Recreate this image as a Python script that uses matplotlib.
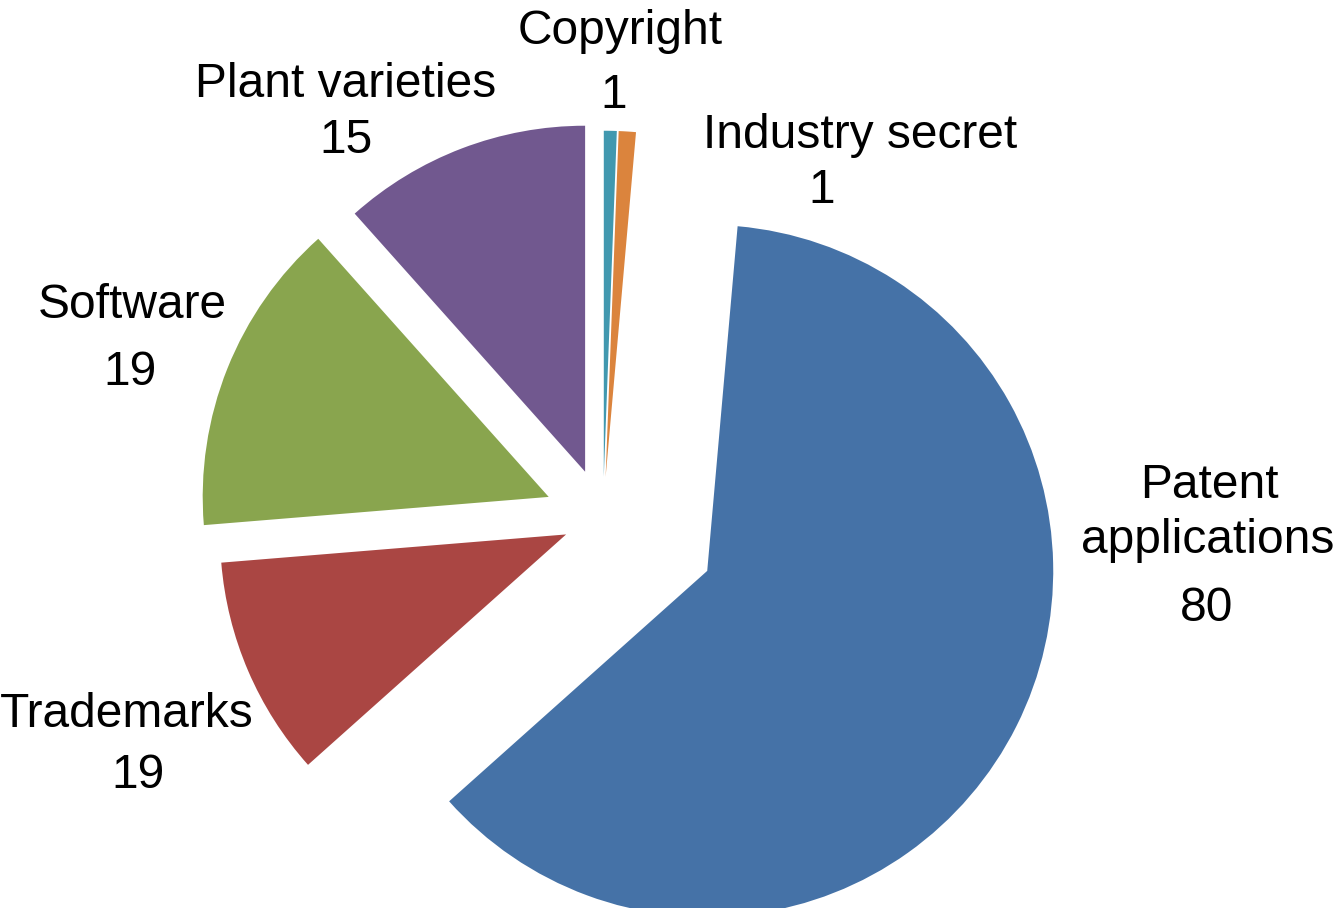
import matplotlib
matplotlib.use("Agg")
import matplotlib.pyplot as plt

# data
categories = ["Copyright", "Industry secret", "Patent applications",
              "Trademarks", "Software", "Plant varieties"]
counts = [1, 1, 80, 19, 19, 15]
# slice sizes as drawn in the picture (percent of the circle)
shares = [0.6, 0.8, 62.0, 10.3, 14.7, 11.6]

colors = ["#4198AF", "#DB843D", "#4572A7", "#AA4643", "#89A54E", "#71588F"]
explode = [0.121, 0.121, 0.337, 0.116, 0.169, 0.145]  # fraction of radius

# label layout in pixel coords (x centre, baseline y from top); one entry per text line
label_lines = [
    [("Copyright", 620, 44), ("{}", 614, 108)],
    [("Industry secret", 860, 148), ("{}", 822, 203)],
    [("Patent", 1209, 498), ("applications", 1208, 553), ("{}", 1207, 621)],
    [("Trademarks", 127, 727), ("{}", 138, 788)],
    [("Software", 132, 318), ("{}", 130, 385)],
    [("Plant varieties", 346, 97), ("{}", 346, 153)],
]

W, H = 1338, 908
R = 346
fig = plt.figure(figsize=(W / 100, H / 100), dpi=100)
ax = fig.add_axes([0, 0, 1, 1])

# matplotlib's explode is in data units, so scale by the radius
ax.pie(shares, explode=[e * R for e in explode], colors=colors, startangle=90,
       counterclock=False, radius=R, center=(603, H - 518.6),
       wedgeprops=dict(linewidth=0))

for lines, n in zip(label_lines, counts):
    for txt, x, y in lines:
        ax.text(x, H - y, txt.format(n), ha="center", va="baseline",
                fontsize=34.5, family="Liberation Sans", color="black")

ax.set_xlim(0, W)
ax.set_ylim(0, H)
ax.set_aspect("equal")
ax.axis("off")

fig.savefig("out.png", dpi=100, facecolor="white")
